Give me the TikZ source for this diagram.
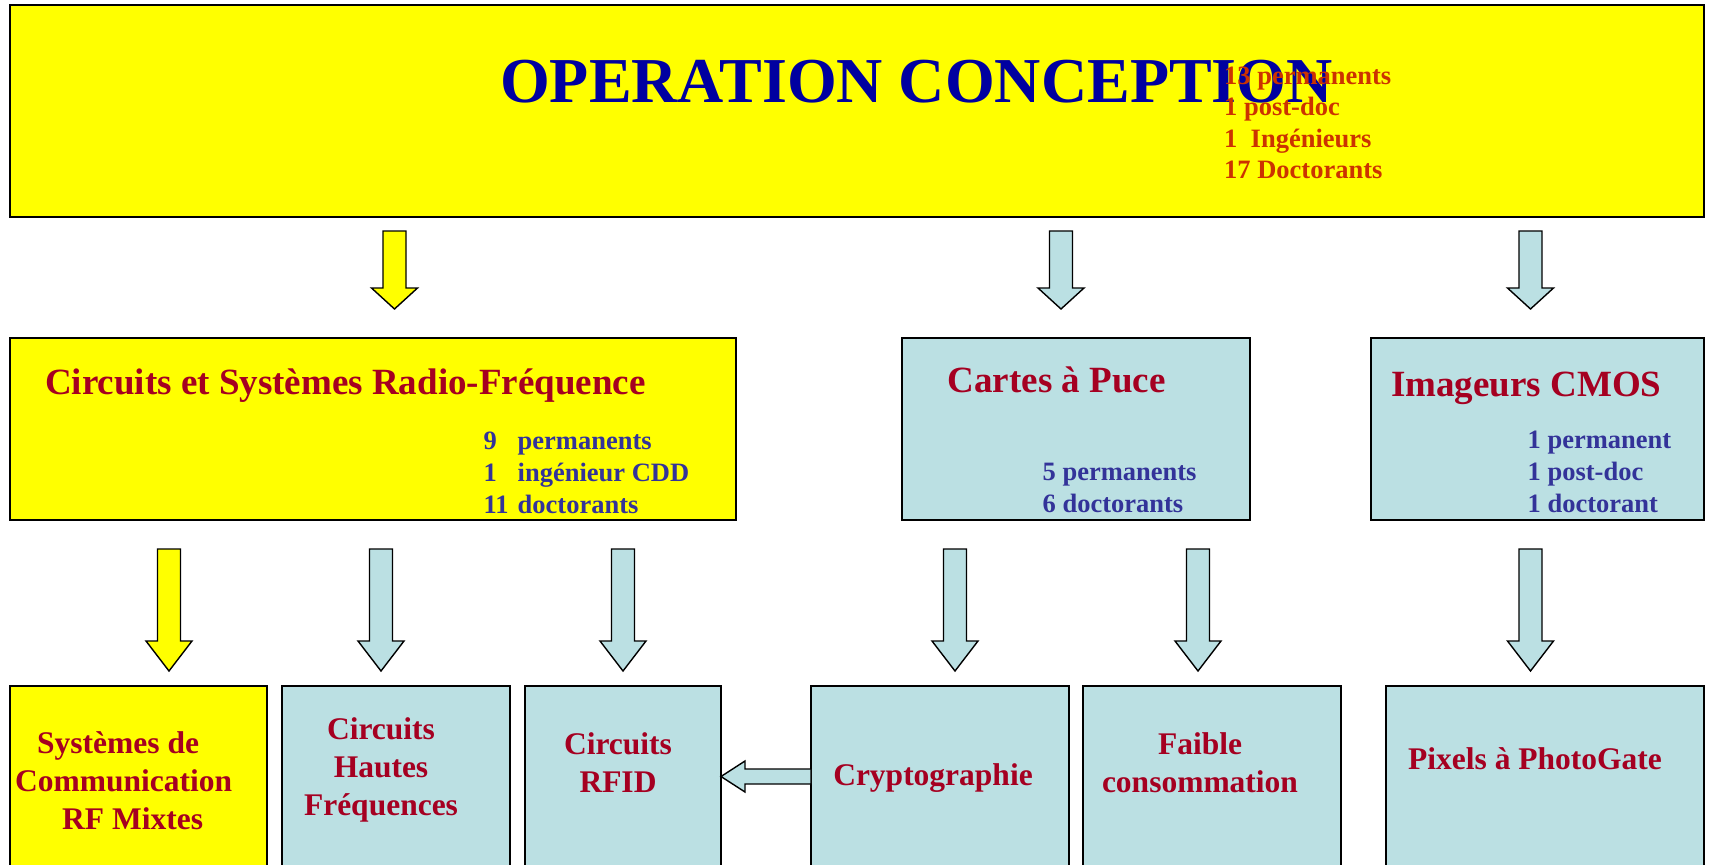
\documentclass[tikz,border=0pt]{standalone}
\usepackage{fontspec}
\setmainfont{Liberation Serif}
\usetikzlibrary{calc}
\definecolor{byellow}{RGB}{255,255,0}
\definecolor{bcyan}{RGB}{187,224,227}
\definecolor{tred}{RGB}{165,0,33}
\definecolor{tblue}{RGB}{51,51,153}
\definecolor{ttitle}{RGB}{0,0,160}
\definecolor{torange}{RGB}{204,51,0}
\newcommand\blockdown[5]{%
  \draw[arrowline, fill=#1] ({#2-11.5},#3) -- ({#2+11.5},#3) -- ({#2+11.5},#4) -- ({#2+23},#4) -- (#2,#5) -- ({#2-23},#4) -- ({#2-11.5},#4) -- cycle;}
\begin{document}
\begin{tikzpicture}[x=1pt,y=-1pt,
  box/.style={draw=black, line width=1.5pt, inner sep=0pt, outer sep=0pt},
  arrowline/.style={draw=black, line width=1.4pt, line join=miter},
  bigtitle/.style={font=\fontsize{64}{70}\selectfont\bfseries, text=ttitle, inner sep=0pt, anchor=base west},
  orangetxt/.style={font=\fontsize{26.5}{31.6}\selectfont\bfseries, text=torange, inner sep=0pt, anchor=base west},
  headtxt/.style={font=\fontsize{37}{42}\selectfont\bfseries, text=tred, inner sep=0pt, anchor=base west},
  counttxt/.style={font=\fontsize{26.5}{32}\selectfont\bfseries, text=tblue, inner sep=0pt, anchor=base west},
  leaftxt/.style={font=\fontsize{31.5}{38}\selectfont\bfseries, text=tred, inner sep=0pt, anchor=base}]
\useasboundingbox (0,0) rectangle (1709,865);
\clip (0,0) rectangle (1709,865);

% top box
\node[box, fill=byellow, minimum width=1694pt, minimum height=212pt] (top) at (857,111) {};
\node[bigtitle] (title) at (500,102) {OPERATION CONCEPTION};
\node[orangetxt] (topcount) at (1224,84) {\begin{tabular}[t]{@{}l@{}}13 permanents\\1 post-doc\\1~~Ingénieurs\\17 Doctorants\end{tabular}};

% middle row
\node[box, fill=byellow, minimum width=726pt, minimum height=182pt] (rf) at (373,429) {};
\node[headtxt] (rft) at (45,394) {Circuits et Systèmes Radio-Fréquence};
\node[counttxt] (rfc) at (483.5,449) {\begin{tabular}[t]{@{}l@{}}\makebox[34pt][l]{9}permanents\\\makebox[34pt][l]{1}ingénieur CDD\\\makebox[34pt][l]{11}doctorants\end{tabular}};

\node[box, fill=bcyan, minimum width=348pt, minimum height=182pt] (cartes) at (1076,429) {};
\node[headtxt] (cartest) at (947.5,392.5) {Cartes à Puce};
\node[counttxt] (cartesc) at (1042.5,480) {\begin{tabular}[t]{@{}l@{}}5 permanents\\6 doctorants\end{tabular}};

\node[box, fill=bcyan, minimum width=333pt, minimum height=182pt] (imag) at (1537.5,429) {};
\node[headtxt] (imagt) at (1391,396) {Imageurs CMOS};
\node[counttxt] (imagc) at (1527.5,448.5) {\begin{tabular}[t]{@{}l@{}}1 permanent\\1 post-doc\\1 doctorant\end{tabular}};

% bottom row
\node[box, fill=byellow, minimum width=257pt, minimum height=214pt] (sys) at (138.5,793) {};
\node[leaftxt, anchor=base west] (syst) at (15,753) {\begin{tabular}[t]{@{}l@{}}\hspace*{22pt}Systèmes de\\Communication\\\hspace*{47pt}RF Mixtes\end{tabular}};
\node[box, fill=bcyan, minimum width=228pt, minimum height=214pt] (hf) at (396,793) {};
\node[leaftxt] (hft) at (381,739) {\begin{tabular}[t]{@{}c@{}}Circuits\\Hautes\\Fréquences\end{tabular}};
\node[box, fill=bcyan, minimum width=196pt, minimum height=214pt] (rfid) at (623,793) {};
\node[leaftxt] (rfidt) at (618,754) {\begin{tabular}[t]{@{}c@{}}Circuits\\RFID\end{tabular}};
\node[box, fill=bcyan, minimum width=258pt, minimum height=214pt] (crypto) at (940,793) {};
\node[leaftxt] (cryptot) at (933,785) {Cryptographie};
\node[box, fill=bcyan, minimum width=258pt, minimum height=214pt] (faible) at (1212,793) {};
\node[leaftxt] (faiblet) at (1200,754) {\begin{tabular}[t]{@{}c@{}}Faible\\consommation\end{tabular}};
\node[box, fill=bcyan, minimum width=318pt, minimum height=214pt] (pix) at (1545,793) {};
\node[leaftxt] (pixt) at (1535,769) {Pixels à PhotoGate};

% block arrows row 1
\blockdown{byellow}{394.5}{231}{288}{309}
\blockdown{bcyan}{1061}{231}{288}{309}
\blockdown{bcyan}{1530.5}{231}{288}{309}
% block arrows row 2
\blockdown{byellow}{169}{549}{641}{671}
\blockdown{bcyan}{381}{549}{641}{671}
\blockdown{bcyan}{623}{549}{641}{671}
\blockdown{bcyan}{955}{549}{641}{671}
\blockdown{bcyan}{1198}{549}{641}{671}
\blockdown{bcyan}{1530.5}{549}{641}{671}
% left arrow crypto -> rfid
\draw[arrowline, fill=bcyan] (crypto.west |- 0,769) -- (745,769) -- (745,761) -- (rfid.east |- 0,776.5) -- (745,792) -- (745,784) -- (crypto.west |- 0,784) -- cycle;
\end{tikzpicture}
\end{document}
